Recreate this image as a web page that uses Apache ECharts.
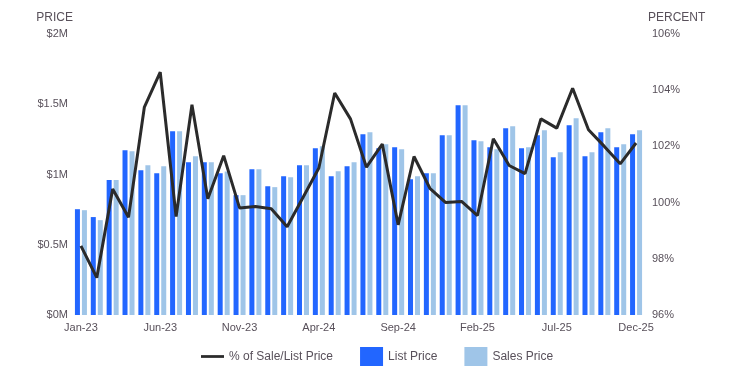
<!DOCTYPE html>
<html>
<head>
<meta charset="utf-8">
<script src="https://cdn.jsdelivr.net/npm/echarts@6/dist/echarts.min.js"></script>
<style>
html,body{margin:0;padding:0;background:#fff;}
#chart{width:737px;height:382px;}
</style>
</head>
<body>
<div id="chart"></div>
<script>
var categories = ['Jan-23','Feb-23','Mar-23','Apr-23','May-23','Jun-23','Jul-23','Aug-23','Sep-23','Oct-23','Nov-23','Dec-23',
  'Jan-24','Feb-24','Mar-24','Apr-24','May-24','Jun-24','Jul-24','Aug-24','Sep-24','Oct-24','Nov-24','Dec-24',
  'Jan-25','Feb-25','Mar-25','Apr-25','May-25','Jun-25','Jul-25','Aug-25','Sep-25','Oct-25','Nov-25','Dec-25'];
var listPrice = [753000,697000,960000,1173000,1031000,1009000,1308000,1087000,1087000,1009000,853000,1038000,
  917000,988000,1066000,1187000,988000,1059000,1286000,1187000,1194000,967000,1009000,1279000,
  1493000,1244000,1194000,1329000,1187000,1279000,1123000,1350000,1130000,1300000,1194000,1286000];
var salesPrice = [746000,675000,960000,1166000,1066000,1059000,1308000,1130000,1087000,1021000,853000,1038000,
  910000,981000,1066000,1201000,1023000,1087000,1300000,1215000,1180000,988000,1009000,1279000,
  1493000,1237000,1180000,1343000,1194000,1315000,1158000,1400000,1158000,1329000,1215000,1315000];
var pctSaleList = [98.46,97.33,100.48,99.48,103.40,104.64,99.50,103.48,100.14,101.67,99.81,99.86,
  99.78,99.14,100.18,101.23,103.90,102.97,101.26,102.08,99.21,101.64,100.51,100.00,
  100.04,99.54,102.27,101.32,101.03,102.98,102.65,104.07,102.59,102.00,101.38,102.12];
var priceTicks = {0:'$0M',500000:'$0.5M',1000000:'$1M',1500000:'$1.5M',2000000:'$2M'};

var chart = echarts.init(document.getElementById('chart'), null, {renderer:'canvas'});
var txt = '#58505a';
chart.setOption({
  animation:false,
  backgroundColor:'#ffffff',
  textStyle:{fontFamily:'Arial, "Liberation Sans", sans-serif'},
  grid:{left:73,right:93,top:34,bottom:67},
  legend:{
    left:196, top:342, itemWidth:23, itemHeight:19, itemGap:27,
    textStyle:{color:txt,fontSize:12},
    data:[
      {name:'% of Sale/List Price', icon:'path://M0,8 L25,8 L25,11 L0,11 Z', itemStyle:{color:'#2b2b2b'}},
      {name:'List Price', icon:'rect'},
      {name:'Sales Price', icon:'rect'}
    ]
  },
  xAxis:{
    type:'category', data:categories,
    axisLine:{show:false}, axisTick:{show:false},
    axisLabel:{interval:4, color:txt, fontSize:11, margin:7}
  },
  yAxis:[
    {
      type:'value', min:0, max:2000000, interval:500000,
      name:'PRICE', nameLocation:'end', nameGap:10,
      nameTextStyle:{color:txt, fontSize:12, align:'right', padding:[0,0,0,0]},
      splitLine:{show:false}, axisLine:{show:false}, axisTick:{show:false},
      axisLabel:{color:txt, fontSize:11, margin:5, formatter:function(v){return priceTicks[v] !== undefined ? priceTicks[v] : '';}}
    },
    {
      type:'value', min:96, max:106, interval:2, position:'right',
      name:'PERCENT', nameLocation:'end', nameGap:10,
      nameTextStyle:{color:txt, fontSize:12, align:'left', padding:[0,0,0,4]},
      splitLine:{show:false}, axisLine:{show:false}, axisTick:{show:false},
      axisLabel:{color:txt, fontSize:11, margin:8, formatter:'{value}%'}
    }
  ],
  series:[
    {name:'List Price', type:'bar', data:listPrice, barWidth:5, barGap:'40%', itemStyle:{color:'#2266ff'}},
    {name:'Sales Price', type:'bar', data:salesPrice, barWidth:5, barGap:'40%', itemStyle:{color:'#9fc5e8'}},
    {name:'% of Sale/List Price', type:'line', yAxisIndex:1, data:pctSaleList, symbol:'none', z:5,
     lineStyle:{color:'#2b2b2b', width:3}, itemStyle:{color:'#2b2b2b'}}
  ]
});
</script>
</body>
</html>
